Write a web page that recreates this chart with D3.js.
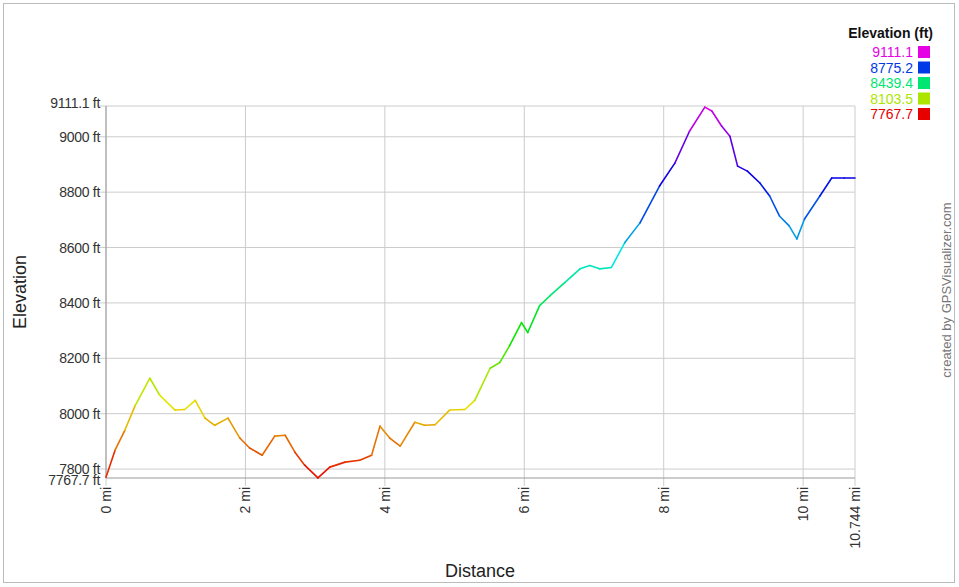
<!DOCTYPE html>
<html><head><meta charset="utf-8">
<script src="https://cdn.jsdelivr.net/npm/d3@7"></script>
<style>body{margin:0;background:#fff;font-family:"Liberation Sans",Arial,sans-serif}</style>
</head><body><svg id="c" width="959" height="587"></svg>
<script>
var dist = [0,0.13,0.27,0.42,0.63,0.77,0.99,1.13,1.28,1.42,1.56,1.75,1.92,2.06,2.24,2.42,2.57,2.71,2.85,3.04,3.21,3.43,3.64,3.81,3.93,4.07,4.22,4.43,4.57,4.72,4.93,5.15,5.29,5.51,5.65,5.79,5.96,6.05,6.22,6.37,6.58,6.80,6.94,7.08,7.25,7.44,7.66,7.94,8.16,8.37,8.59,8.69,8.83,8.95,9.06,9.20,9.38,9.52,9.66,9.80,9.91,10.02,10.24,10.41,10.59,10.744];
var elev = [7770,7868,7940,8030,8128,8067,8013,8015,8048,7984,7958,7984,7912,7876,7850,7919,7922,7861,7814,7768,7807,7825,7832,7850,7955,7912,7883,7969,7958,7960,8013,8015,8048,8164,8185,8246,8329,8293,8390,8426,8473,8523,8535,8523,8528,8617,8689,8822,8905,9020,9107,9093,9039,9002,8894,8876,8833,8786,8714,8678,8631,8703,8786,8851,8851,8851];
var yTicks = [7800,8000,8200,8400,8600,8800,9000];
var xTicks = [0,2,4,6,8,10];
var legendVals = [9111.1,8775.2,8439.4,8103.5,7767.7];
var minE = 7767.7, maxE = 9111.1, maxD = 10.744;

var svg = d3.select("#c");
var x = d3.scaleLinear().domain([0,maxD]).range([106,855]);
var y = d3.scaleLinear().domain([minE,maxE]).range([478,106]);
function col(e){ return d3.hsl(300*(e-minE)/(maxE-minE),1,0.45).toString(); }

svg.append("rect").attr("x",3.5).attr("y",3.5).attr("width",951).attr("height",579)
  .attr("fill","none").attr("stroke","#bbb");

var g = svg.append("g");
g.selectAll(".hg").data(yTicks.concat([maxE])).enter().append("line")
  .attr("x1",98).attr("x2",855).attr("y1",d=>y(d)).attr("y2",d=>y(d)).attr("stroke","#ccc");
g.selectAll(".vg").data(xTicks.concat([maxD])).enter().append("line")
  .attr("x1",d=>x(d)).attr("x2",d=>x(d)).attr("y1",106).attr("y2",486).attr("stroke","#ccc");
g.append("line").attr("x1",106).attr("x2",106).attr("y1",106).attr("y2",478).attr("stroke","#999");
g.append("line").attr("x1",106).attr("x2",855).attr("y1",478).attr("y2",478).attr("stroke","#999");

g.selectAll(".yl").data(yTicks).enter().append("text")
  .attr("x",100).attr("y",d=>y(d)+5).attr("text-anchor","end").attr("font-size","14px").attr("fill","#333")
  .attr("letter-spacing","-0.3").text(d=>d+" ft");
g.append("text").attr("x",100).attr("y",y(maxE)+2).attr("text-anchor","end").attr("font-size","14px").attr("fill","#333").attr("letter-spacing","-0.3").text("9111.1 ft");
g.append("text").attr("x",100).attr("y",y(minE)+7).attr("text-anchor","end").attr("font-size","14px").attr("fill","#333").attr("letter-spacing","-0.3").text("7767.7 ft");
g.selectAll(".xl").data(xTicks.map(d=>[d,d+" mi"]).concat([[maxD,"10.744 mi"]])).enter().append("text")
  .attr("transform",d=>"translate("+(x(d[0])+5)+",487) rotate(-90)")
  .attr("text-anchor","end").attr("font-size","14px").attr("fill","#333").text(d=>d[1]);

svg.append("text").attr("transform","translate(26,292) rotate(-90)").attr("text-anchor","middle")
  .attr("font-size","18px").attr("fill","#222").text("Elevation");
svg.append("text").attr("x",480).attr("y",577).attr("text-anchor","middle")
  .attr("font-size","18px").attr("fill","#222").text("Distance");
svg.append("text").attr("transform","translate(951,290) rotate(-90)").attr("text-anchor","middle")
  .attr("font-size","13px").attr("fill","#777").text("created by GPSVisualizer.com");

var segs = d3.range(dist.length-1);
g.selectAll(".seg").data(segs).enter().append("line")
  .attr("x1",i=>x(dist[i])).attr("y1",i=>y(elev[i]))
  .attr("x2",i=>x(dist[i+1])).attr("y2",i=>y(elev[i+1]))
  .attr("stroke",i=>col((elev[i]+elev[i+1])/2)).attr("stroke-width",1.6).attr("stroke-linecap","round");

svg.append("text").attr("x",933).attr("y",38).attr("text-anchor","end")
  .attr("font-size","14px").attr("font-weight","bold").attr("fill","#111").text("Elevation (ft)");
var lg = svg.selectAll(".lg").data(legendVals).enter().append("g")
  .attr("transform",(d,i)=>"translate(0,"+(52+i*15.5)+")");
lg.append("text").attr("x",913).attr("y",5).attr("text-anchor","end").attr("font-size","14px")
  .attr("fill",d=>col(d)).text(d=>d.toFixed(1));
lg.append("rect").attr("x",918).attr("y",-6).attr("width",12).attr("height",12).attr("fill",d=>col(d));
</script></body></html>
